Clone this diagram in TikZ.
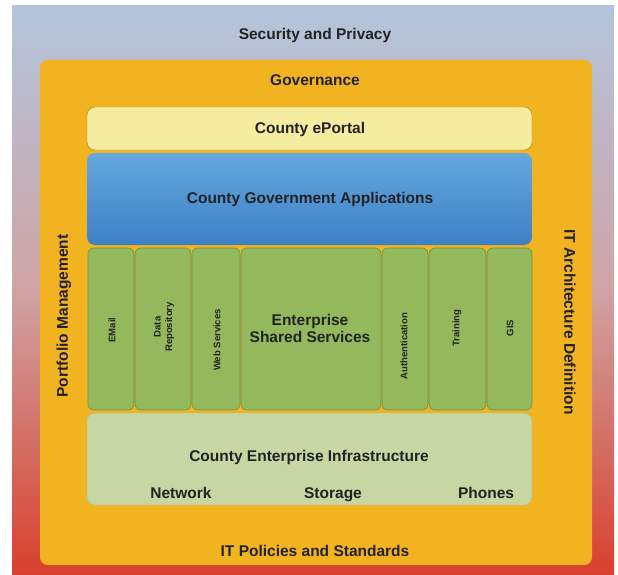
\documentclass[tikz,border=0pt]{standalone}
\usepackage{fontspec}
\setmainfont{Liberation Sans}
\usetikzlibrary{positioning}

\definecolor{skytop}{HTML}{B3C5DC}
\definecolor{skymid}{HTML}{CFA3A4}
\definecolor{skybot}{HTML}{D9402C}
\definecolor{govorange}{HTML}{F2B320}
\definecolor{portalyel}{HTML}{F5ECA0}
\definecolor{apptop}{HTML}{64A8DE}
\definecolor{appbot}{HTML}{3D80C6}
\definecolor{svcgreen}{HTML}{93B95C}
\definecolor{svcedge}{HTML}{6F8F48}
\definecolor{infragreen}{HTML}{C7D6A3}
\definecolor{inktext}{HTML}{222222}

\tikzset{
	layertext/.style = {font=\bfseries\fontsize{15.5}{17}\selectfont, text=inktext},
	sidetext/.style = {font=\bfseries\fontsize{15.5}{17}\selectfont, text=inktext},
	coltext/.style = {font=\bfseries\fontsize{9.5}{11.5}\selectfont, text=inktext, align=center},
	colbox/.style = {draw=svcedge, fill=svcgreen, rounded corners=6pt, line width=0.6pt}
}

\begin{document}
\begin{tikzpicture}[x=1pt, y=-1pt]
	\useasboundingbox (0,0) rectangle (618,575);
	% outer band
	\shade[top color=skytop, bottom color=skybot, middle color=skymid] (12,6) rectangle (614,575);
	\node[layertext] (security) at (315,35) {Security and Privacy};
	% governance frame
	\fill[govorange, rounded corners=8pt] (40,60) rectangle (592,565);
	\node[layertext] (governance) at (315,80) {Governance};
	\node[sidetext, rotate=90] (portfolio) at (64,316) {Portfolio Management};
	\node[sidetext, rotate=-90] (architecture) at (570,322) {IT Architecture Definition};
	\node[layertext] (policies) at (315,551) {IT Policies and Standards};
	% portal and applications
	\filldraw[draw=govorange!70!black, fill=portalyel, rounded corners=8pt, line width=0.4pt] (87,107) rectangle (532,150);
	\node[layertext] (portal) at (310,129) {County ePortal};
	\shade[top color=apptop, bottom color=appbot, rounded corners=8pt] (87,153) rectangle (532,245);
	\node[layertext] (apps) at (310,199) {County Government Applications};
	% shared services columns
	\draw[colbox] (88,248) rectangle (134,410);
	\draw[colbox] (135,248) rectangle (191,410);
	\draw[colbox] (192,248) rectangle (240,410);
	\draw[colbox] (241,248) rectangle (381,410);
	\draw[colbox] (382,248) rectangle (428,410);
	\draw[colbox] (429,248) rectangle (486,410);
	\draw[colbox] (487,248) rectangle (532,410);
	\node[coltext, rotate=90] (email) at (112,330) {EMail};
	\node[coltext, rotate=90] (datarepo) at (164,327) {Data\\Repository};
	\node[coltext, rotate=90] (websvc) at (217,340) {Web Services};
	\node[layertext, align=center] (shared) at (310,328) {Enterprise\\Shared Services};
	\node[coltext, rotate=90] (authn) at (404,346) {Authentication};
	\node[coltext, rotate=90] (training) at (457,328) {Training};
	\node[coltext, rotate=90] (gis) at (510,328) {GIS};
	% infrastructure
	\filldraw[draw=svcedge!60, fill=infragreen, rounded corners=8pt, line width=0.4pt] (87,413) rectangle (532,505);
	\node[layertext] (infra) at (309,457) {County Enterprise Infrastructure};
	\node[layertext, anchor=base] (network) at (181,498) {Network};
	\node[layertext, anchor=base] (storage) at (333,498) {Storage};
	\node[layertext, anchor=base] (phones) at (486,498) {Phones};
\end{tikzpicture}
\end{document}
